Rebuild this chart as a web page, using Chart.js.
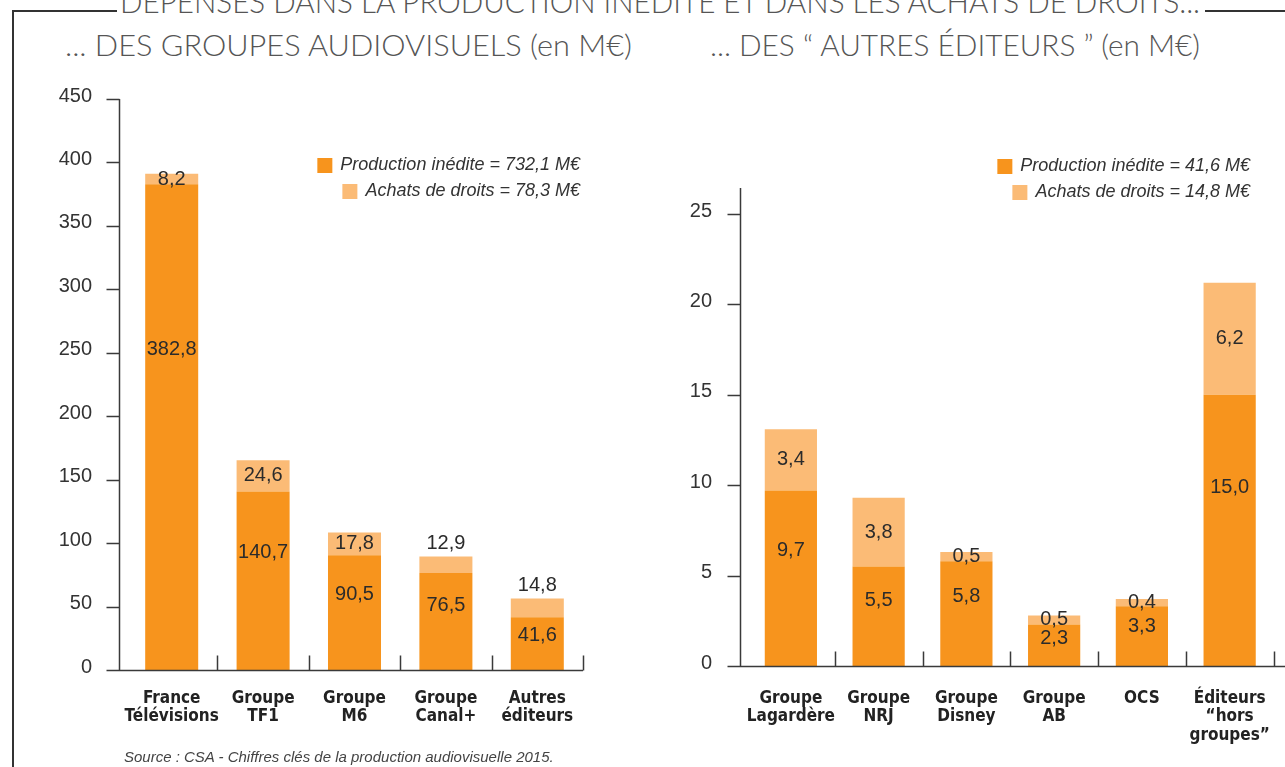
<!DOCTYPE html>
<html>
<head>
<meta charset="utf-8">
<script src="https://cdn.jsdelivr.net/npm/chart.js@4.4.0/dist/chart.umd.min.js"></script>
<style>
  body { margin: 0; width: 1285px; height: 767px; overflow: hidden; position: relative; background: #fff; }
  .title { position: absolute; white-space: nowrap; font-family: Lato, "Open Sans", sans-serif; font-weight: 300;
           color: #555; transform-origin: 0 0; line-height: 30px; }
  .frame { position: absolute; background: #333; }
  .chartbox { position: absolute; }
  .chartbox canvas { display: block; }
  #source { position: absolute; left: 124px; top: 748px; font: italic 15px "Liberation Sans", Arial, sans-serif; color: #444; white-space: nowrap; }
</style>
</head>
<body>
<div class="frame" style="left:12px;top:10px;width:2px;height:757px"></div>
<div class="frame" style="left:12px;top:10px;width:105px;height:2px"></div>
<div class="frame" style="left:1205px;top:10px;width:80px;height:2px"></div>

<div class="title" data-w="1080" style="left:120px;top:-14px;font-size:31px">DÉPENSES DANS LA PRODUCTION INÉDITE ET DANS LES ACHATS DE DROITS...</div>
<div class="title" data-w="567" style="left:65px;top:29px;font-size:30px">... DES GROUPES AUDIOVISUELS (en M€)</div>
<div class="title" data-w="490" style="left:710px;top:29px;font-size:30px">... DES “ AUTRES ÉDITEURS ” (en M€)</div>

<div class="chartbox" style="left:0px;top:40px"><canvas id="leftChart" width="640" height="727"></canvas></div>
<div class="chartbox" style="left:640px;top:80px"><canvas id="rightChart" width="645" height="687"></canvas></div>

<div id="source">Source : CSA - Chiffres clés de la production audiovisuelle 2015.</div>

<script>
// données (en M€)
const leftCats = [['France', 'Télévisions'], ['Groupe', 'TF1'], ['Groupe', 'M6'], ['Groupe', 'Canal+'], ['Autres', 'éditeurs']];
const leftProd = [382.8, 140.7, 90.5, 76.5, 41.6];
const leftAchats = [8.2, 24.6, 17.8, 12.9, 14.8];

const rightCats = [['Groupe', 'Lagardère'], ['Groupe', 'NRJ'], ['Groupe', 'Disney'], ['Groupe', 'AB'], ['OCS'], ['Éditeurs', '“hors', 'groupes”']];
const rightProd = [9.7, 5.5, 5.8, 2.3, 3.3, 15.0];
const rightAchats = [3.4, 3.8, 0.5, 0.5, 0.4, 6.2];

const leftAxis = { max: 450, step: 50 };
const rightAxis = { max: 25, step: 5 };

const ORANGE = '#F7941D';
const LIGHT = '#FBBB76';

const fmt = v => v.toFixed(1).replace('.', ',');
const sum = a => a.reduce((s, v) => s + v, 0);

// axes dessinés à la main : axe y décalé de 7px, traits de séparation vers le haut
const axesPlugin = {
  id: 'axes',
  afterDatasetsDraw(chart, args, opts) {
    const { ctx, chartArea: a, scales: { x, y } } = chart;
    const ax = Math.round(a.left - 7) + 0.5;
    const bottom = Math.round(a.bottom) + 0.5;
    ctx.save();
    ctx.strokeStyle = '#3a3a3a';
    ctx.lineWidth = 1.5;
    ctx.beginPath();
    ctx.moveTo(ax, a.top - (opts.extraTop || 0));
    ctx.lineTo(ax, bottom);
    ctx.moveTo(ax - 13, bottom);
    ctx.lineTo(opts.xEnd || a.right, bottom);
    y.ticks.forEach(t => {
      const py = Math.round(y.getPixelForValue(t.value)) + 0.5;
      ctx.moveTo(ax - 13, py);
      ctx.lineTo(ax, py);
    });
    const n = x.ticks.length;
    for (let i = 0; i < n; i++) {
      const bx = i < n - 1 ? (x.getPixelForTick(i) + x.getPixelForTick(i + 1)) / 2 : a.right;
      ctx.moveTo(Math.round(bx) + 0.5, bottom);
      ctx.lineTo(Math.round(bx) + 0.5, bottom - 15);
    }
    ctx.stroke();
    ctx.restore();
  }
};

// valeurs sur les barres
const valuesPlugin = {
  id: 'values',
  afterDatasetsDraw(chart, args, opts) {
    const { ctx } = chart;
    ctx.save();
    ctx.font = '20px "Liberation Sans", Arial, sans-serif';
    ctx.fillStyle = '#2b2b2b';
    ctx.textAlign = 'center';
    ctx.textBaseline = 'middle';
    const prod = chart.data.datasets[0].data;
    const ach = chart.data.datasets[1].data;
    chart.getDatasetMeta(0).data.forEach((bar, i) => {
      ctx.fillText(fmt(prod[i]), bar.x, bar.base - (bar.base - bar.y) * 0.66);
    });
    chart.getDatasetMeta(1).data.forEach((bar, i) => {
      const outside = opts.outside && opts.outside[i];
      const yy = outside ? bar.y - 13 : (bar.y + bar.base) / 2;
      ctx.fillText(fmt(ach[i]), bar.x, yy);
    });
    ctx.restore();
  }
};

// légende en haut à droite, alignée à droite
const legendPlugin = {
  id: 'boxLegend',
  afterDraw(chart, args, opts) {
    const { ctx } = chart;
    ctx.save();
    ctx.font = 'italic 18px "Liberation Sans", Arial, sans-serif';
    ctx.fillStyle = '#333';
    ctx.textAlign = 'right';
    ctx.textBaseline = 'middle';
    chart.data.datasets.forEach((ds, i) => {
      const txt = ds.label + ' = ' + fmt(sum(ds.data)) + ' M€';
      const yy = opts.rows[i];
      const w = ctx.measureText(txt).width;
      ctx.fillText(txt, opts.right, yy);
      ctx.fillStyle = ds.backgroundColor;
      ctx.fillRect(opts.right - w - 23, yy - 7, 15, 15);
      ctx.fillStyle = '#333';
    });
    ctx.restore();
  }
};

function makeChart(id, cats, prod, ach, axis, cfg) {
  return new Chart(document.getElementById(id), {
    type: 'bar',
    data: {
      labels: cats,
      datasets: [
        { label: 'Production inédite', data: prod, backgroundColor: ORANGE },
        { label: 'Achats de droits', data: ach, backgroundColor: LIGHT }
      ]
    },
    options: {
      responsive: false,
      animation: false,
      devicePixelRatio: 1,
      layout: { padding: cfg.padding },
      datasets: { bar: { categoryPercentage: 1, barPercentage: cfg.barPct, borderWidth: 0 } },
      plugins: {
        legend: { display: false },
        tooltip: { enabled: false },
        axes: { extraTop: cfg.extraTop, xEnd: cfg.xEnd },
        values: { outside: cfg.outside },
        boxLegend: { right: cfg.legendRight, rows: cfg.legendRows }
      },
      scales: {
        x: {
          stacked: true,
          grid: { display: false },
          border: { display: false },
          ticks: {
            color: '#222',
            padding: cfg.xPad,
            font: { family: '"Liberation Sans Narrow", "DejaVu Sans Condensed", Arial, sans-serif', size: 17, weight: 'bold', lineHeight: 1.1 },
            maxRotation: 0,
            autoSkip: false
          },
          afterFit: s => { s.height = cfg.xHeight; }
        },
        y: {
          stacked: true,
          min: 0,
          max: axis.max,
          grid: { display: false },
          border: { display: false },
          ticks: {
            stepSize: axis.step,
            color: '#333',
            padding: cfg.tickPad,
            labelOffset: -3,
            font: { family: '"Liberation Sans", Arial, sans-serif', size: 20 }
          },
          afterFit: s => { s.width = cfg.yWidth; }
        }
      }
    },
    plugins: [axesPlugin, valuesPlugin, legendPlugin]
  });
}

makeChart('leftChart', leftCats, leftProd, leftAchats, leftAxis, {
  padding: { left: 0, right: 57, top: 59, bottom: 0 },
  yWidth: 126, xHeight: 97, tickPad: 26, xPad: 11, barPct: 0.58,
  extraTop: 0, xEnd: null,
  outside: [false, false, false, true, true],
  legendRight: 580, legendRows: [125, 151]
});

makeChart('rightChart', rightCats, rightProd, rightAchats, rightAxis, {
  padding: { left: 0, right: 2, top: 134, bottom: 0 },
  yWidth: 107, xHeight: 101, tickPad: 27, xPad: 15, barPct: 0.595,
  extraTop: 26, xEnd: 645,
  outside: [false, false, false, false, false, false],
  legendRight: 610, legendRows: [86, 112]
});

// ajuste la largeur des titres
document.querySelectorAll('.title').forEach(el => {
  const w = el.getBoundingClientRect().width;
  el.style.transform = 'scaleX(' + (el.dataset.w / w) + ')';
});
</script>
</body>
</html>
